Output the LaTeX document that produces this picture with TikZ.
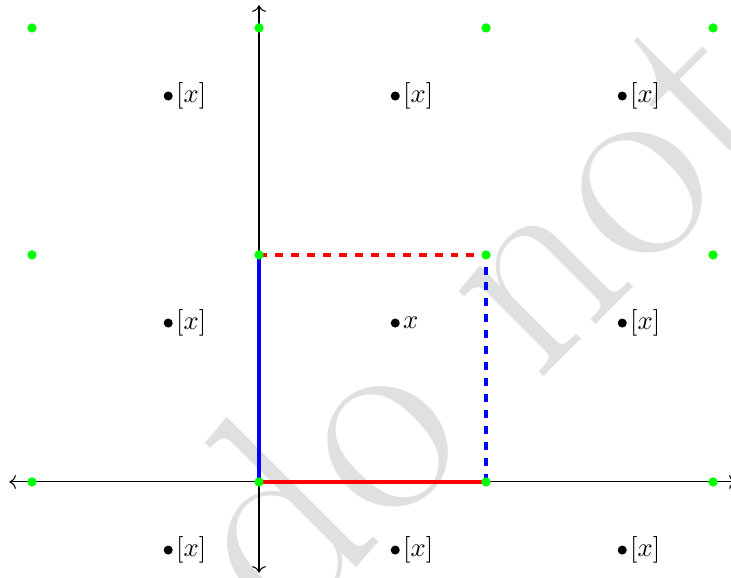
\documentclass[tikz,border=0pt]{standalone}
\usepackage{amsmath,amssymb}
\usepackage{fontspec}
\usepackage{tikz}
\usetikzlibrary{positioning, arrows.meta, calc}
\usepackage{xcolor}

\newfontfamily\wmfont{lmroman17-regular.otf}

\begin{document}
\begin{tikzpicture}[x=3cm, y=3cm,
        lattice/.style={circle, fill=green, inner sep=0pt, minimum size=3.5pt},
        pt/.style={circle, fill=black, inner sep=0pt, minimum size=3.4pt},
        coset/.style={right=0.6pt of #1, inner sep=0.3pt},
        axis/.style={<->, thin},
        side/.style={line width=1.6pt, #1},
        glued/.style={line width=1.6pt, dashed, #1}]

        \useasboundingbox (-1.141,-0.423) rectangle (2.079,2.123);

        % Wasserzeichen im Hintergrund
        \begin{scope}
        \clip (-1.141,-0.423) rectangle (2.079,2.123);
        \node[rotate=45, anchor=base west, inner sep=0pt, text=black!12,
              font=\wmfont\fontsize{106}{106}\selectfont] (wm) at (0.108,-0.685) {do not};
        \end{scope}

        % Achsen
        \coordinate (xl) at (-1.1,0);  \coordinate (xr) at (2.1,0);
        \coordinate (yb) at (0,-0.4);  \coordinate (yt) at (0,2.1);
        \draw[axis] (xl) -- (xr);
        \draw[axis] (yb) -- (yt);

        % Gitterpunkte
        \coordinate (p00) at (0,0); \coordinate (p10) at (1,0);
        \coordinate (p01) at (0,1); \coordinate (p11) at (1,1);

        % Fundamentalbereich: Seiten und ihre Kopien
        \draw[side=blue] (p00) -- (p01);
        \draw[side=red]  (p00) -- (p10);
        \draw[glued=red]  (p01) -- (p11);
        \draw[glued=blue] (p10) -- (p11);

        % Punkte des Gitters (gruen)
        \node[lattice] (g-1-0) at (-1,0) {};
        \node[lattice] (g0-0)  at (0,0)  {};
        \node[lattice] (g1-0)  at (1,0)  {};
        \node[lattice] (g2-0)  at (2,0)  {};
        \node[lattice] (g-1-1) at (-1,1) {};
        \node[lattice] (g0-1)  at (0,1)  {};
        \node[lattice] (g1-1)  at (1,1)  {};
        \node[lattice] (g2-1)  at (2,1)  {};
        \node[lattice] (g-1-2) at (-1,2) {};
        \node[lattice] (g0-2)  at (0,2)  {};
        \node[lattice] (g1-2)  at (1,2)  {};
        \node[lattice] (g2-2)  at (2,2)  {};

        % x und seine Translate
        \node[pt] (x)    at (0.6,0.7)   {};
        \node[coset=x] (lbl-x) {$x$};

        \node[pt] (xa) at (-0.4,1.7) {};  \node[coset=xa] (lbl-xa) {$[x]$};
        \node[pt] (xb) at (0.6,1.7)  {};  \node[coset=xb] (lbl-xb) {$[x]$};
        \node[pt] (xc) at (1.6,1.7)  {};  \node[coset=xc] (lbl-xc) {$[x]$};
        \node[pt] (xd) at (-0.4,0.7) {};  \node[coset=xd] (lbl-xd) {$[x]$};
        \node[pt] (xe) at (1.6,0.7)  {};  \node[coset=xe] (lbl-xe) {$[x]$};
        \node[pt] (xf) at (-0.4,-0.3) {}; \node[coset=xf] (lbl-xf) {$[x]$};
        \node[pt] (xg) at (0.6,-0.3)  {}; \node[coset=xg] (lbl-xg) {$[x]$};
        \node[pt] (xh) at (1.6,-0.3)  {}; \node[coset=xh] (lbl-xh) {$[x]$};
    \end{tikzpicture}
\end{document}
